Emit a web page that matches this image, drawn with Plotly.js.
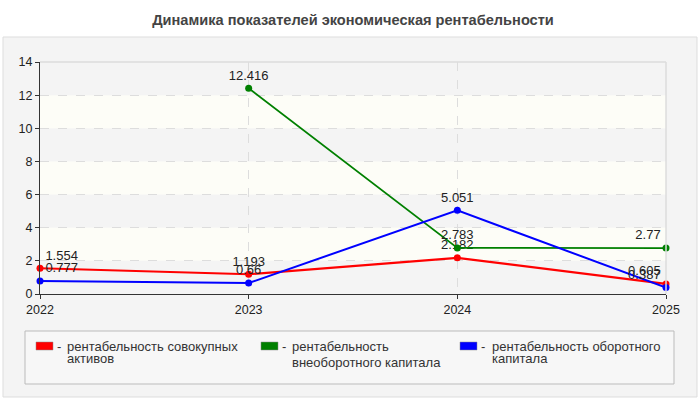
<!DOCTYPE html>
<html>
<head>
<meta charset="utf-8">
<script src="https://cdn.plot.ly/plotly-3.0.1.min.js"></script>
<style>html,body{margin:0;padding:0;background:#fff;}#chart{width:700px;height:400px;}</style>
</head>
<body>
<div id="chart"></div>
<script>
// ---- data ----
const years = ['2022', '2023', '2024', '2025'];
const assetsReturn = [1.554, 1.193, 2.182, 0.605];
const fixedCapitalReturn = [null, 12.416, 2.783, 2.77];
const workingCapitalReturn = [0.777, 0.66, 5.051, 0.387];
const seriesNames = ['рентабельность совокупных активов', 'рентабельность внеоборотного капитала', 'рентабельность оборотного капитала'];
const legendLines = [['рентабельность совокупных', 'активов'], ['рентабельность', 'внеоборотного капитала'], ['рентабельность оборотного', 'капитала']];
const seriesColors = ['#ff0000', '#008000', '#0000ff'];
const chartTitle = 'Динамика показателей экономическая рентабельности';
const yTicks = [0, 2, 4, 6, 8, 10, 12, 14];

// ---- layout geometry (pixels) ----
const W = 700, H = 400, L = 40, R = 34, T = 62, B = 106;
const pw = W - L - R, ph = H - T - B;
const px = v => (v - L) / pw;          // page x -> paper x
const py = v => (H - B - v) / ph;      // page y -> paper y

const font = 'Arial, "Liberation Sans", sans-serif';
const posFor = i => i === 0 ? 'top right' : (i === years.length - 1 ? 'top left' : 'top center');

const allSeries = [assetsReturn, fixedCapitalReturn, workingCapitalReturn];
const lineWidths = [2.2, 1.8, 2];
const traces = allSeries.map((vals, k) => ({
  type: 'scatter',
  mode: 'lines+markers+text',
  name: seriesNames[k],
  x: years,
  y: vals,
  text: vals.map(v => v === null ? '' : String(v)),
  textposition: years.map((_, i) => posFor(i)),
  textfont: {family: font, size: 13, color: '#222'},
  line: {color: seriesColors[k], width: lineWidths[k]},
  marker: {color: seriesColors[k], size: 7},
  cliponaxis: false,
  showlegend: false,
  hoverinfo: 'x+y'
}));

const shapes = [];
// outer grey panel
shapes.push({type: 'rect', xref: 'paper', yref: 'paper', layer: 'below',
  x0: px(3), x1: px(697), y0: py(397), y1: py(37),
  fillcolor: '#f4f4f4', line: {color: '#dddddd', width: 1}});
// alternating plain bands (hatched look is plot background)
for (let v = 10; v >= 0; v -= 4) {
  shapes.push({type: 'rect', xref: 'x', yref: 'y', layer: 'below',
    x0: 0, x1: years.length - 1, y0: v, y1: v + 2,
    fillcolor: '#fdfdf7', line: {width: 0}});
}
// top and right light border of plot area
shapes.push({type: 'line', xref: 'paper', yref: 'paper', x0: 0, x1: 1, y0: 1, y1: 1, line: {color: '#dddddd', width: 1.5}});
shapes.push({type: 'line', xref: 'paper', yref: 'paper', x0: 1, x1: 1, y0: 0, y1: 1, line: {color: '#dddddd', width: 1.5}});
// legend box
shapes.push({type: 'rect', xref: 'paper', yref: 'paper',
  x0: px(25), x1: px(674), y0: py(384), y1: py(331),
  fillcolor: '#f7f7f7', line: {color: '#bbbbbb', width: 1}});

const annotations = [];
const swatchX = [36, 261, 460];
const textX = [65, 290, 490];
const line2Y = [358, 362, 358];
seriesColors.forEach((c, k) => {
  shapes.push({type: 'rect', xref: 'paper', yref: 'paper',
    x0: px(swatchX[k]), x1: px(swatchX[k] + 17), y0: py(350), y1: py(342),
    fillcolor: c, line: {color: '#888888', width: 0.5}});
  annotations.push({xref: 'paper', yref: 'paper', x: px(swatchX[k] + 19), y: py(346),
    xanchor: 'left', yanchor: 'middle', showarrow: false, text: '-',
    font: {family: font, size: 13, color: '#333'}});
  annotations.push({xref: 'paper', yref: 'paper', x: px(textX[k]), y: py(346),
    xanchor: 'left', yanchor: 'middle', showarrow: false, text: legendLines[k][0],
    font: {family: font, size: 13, color: '#333'}});
  annotations.push({xref: 'paper', yref: 'paper', x: px(textX[k]), y: py(line2Y[k]),
    xanchor: 'left', yanchor: 'middle', showarrow: false, text: legendLines[k][1],
    font: {family: font, size: 13, color: '#333'}});
});

const layout = {
  width: W, height: H,
  margin: {l: L, r: R, t: T, b: B, pad: 0},
  paper_bgcolor: '#ffffff',
  plot_bgcolor: '#f9f9f9',
  title: {text: '<b>' + chartTitle + '</b>', x: 0.5, xref: 'paper', xanchor: 'center',
    y: 1 - 20 / H, yref: 'container', yanchor: 'middle',
    font: {family: font, size: 14.6, color: '#444'}},
  xaxis: {type: 'category', range: [0, years.length - 1], showline: true, linecolor: '#333', linewidth: 1,
    ticks: 'outside', ticklen: 4, tickcolor: '#333', showgrid: true, gridcolor: '#dddddd', griddash: 'dash',
    tickfont: {family: font, size: 12.5, color: '#222'}, zeroline: false, fixedrange: true},
  yaxis: {range: [0, 14], tickvals: yTicks, showline: true, linecolor: '#333', linewidth: 1,
    ticks: 'outside', ticklen: 4, tickcolor: '#333', showgrid: true, gridcolor: '#dddddd', griddash: 'dash',
    tickfont: {family: font, size: 12.5, color: '#222'}, zeroline: false, fixedrange: true},
  shapes: shapes,
  annotations: annotations,
  showlegend: false
};

Plotly.newPlot('chart', traces, layout, {displayModeBar: false, staticPlot: true});
</script>
</body>
</html>
